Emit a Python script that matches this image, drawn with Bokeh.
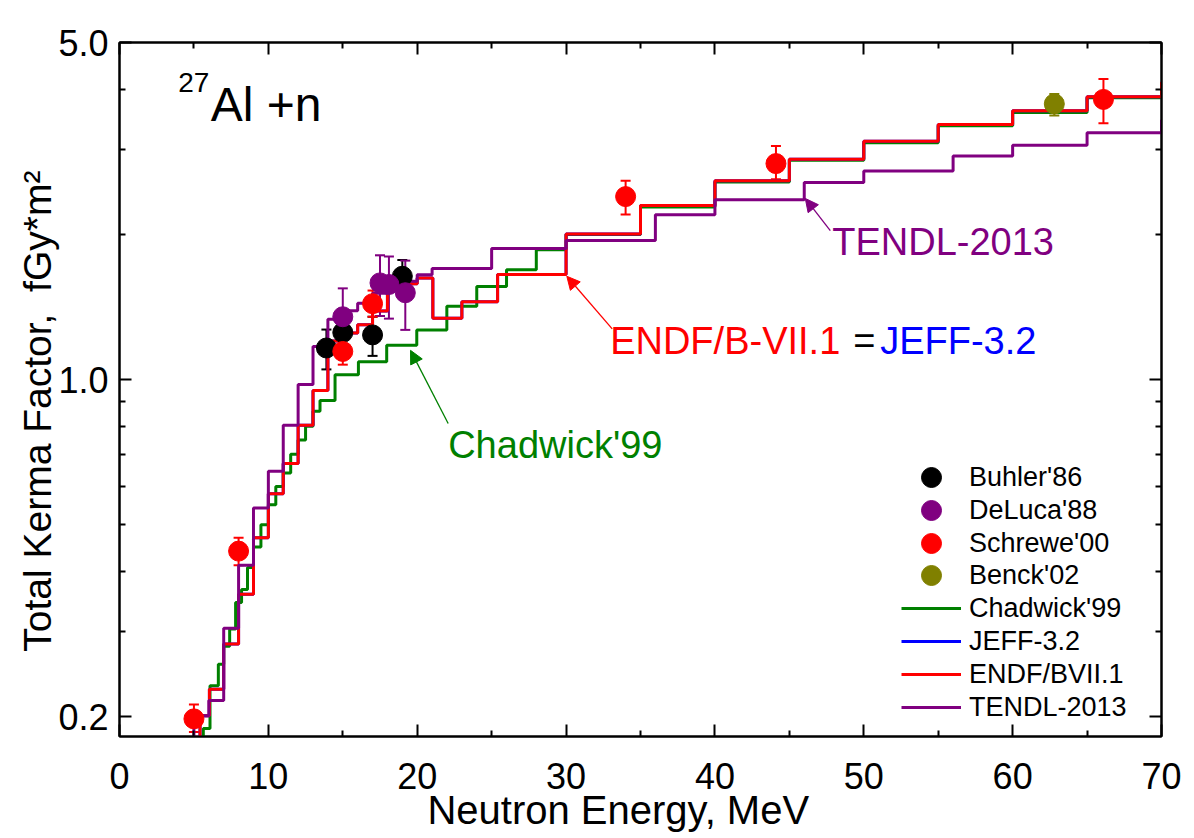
from bokeh.plotting import figure
from bokeh.models import (Range1d, FixedTicker, PrintfTickFormatter, LinearAxis, LogAxis,
                          Label, Arrow, NormalHead, Whisker, TeeHead, ColumnDataSource,
                          Legend, LegendItem, CustomJSTickFormatter)
from bokeh.embed import file_html
from bokeh.resources import INLINE

FONT = "Liberation Sans"

# ---- evaluated data (step edges and bin values) ----
chad_edges = [5.2, 5.63, 6.08, 6.64, 7.0, 7.4, 7.8, 8.2, 8.6, 9.0, 9.5, 10.0, 10.5, 11.0, 11.5,
              12.0, 12.5, 13.0, 13.47, 14.48, 16.05, 17.95, 19.97, 21.99, 24.0, 26.0, 28.0,
              30.0, 35.0, 40.0, 45.0, 50.0, 55.0, 60.0, 65.0, 70.0, 75.0]
chad_vals = [0.17, 0.189, 0.232, 0.257, 0.28, 0.304, 0.345, 0.367, 0.408, 0.45, 0.50, 0.55,
             0.60, 0.64, 0.70, 0.75, 0.80, 0.86, 0.905, 1.024, 1.089, 1.179, 1.268, 1.42,
             1.56, 1.69, 1.86, 2.0, 2.28, 2.57, 2.85, 3.10, 3.36, 3.58, 3.84, 4.1]

endf_edges = [5.0, 5.41, 6.04, 7.0, 8.0, 9.0, 10.0, 11.0, 12.0, 13.0, 14.0, 15.0, 16.0, 17.0,
              18.0, 19.0, 20.0, 21.05, 23.0, 25.4, 30.0, 35.0, 40.0, 45.0, 50.0, 55.0, 60.0,
              65.0, 70.0, 75.0]
endf_vals = [0.17, 0.201, 0.228, 0.283, 0.359, 0.47, 0.58, 0.67, 0.804, 0.949, 1.203, 1.25,
             1.30, 1.388, 1.575, 1.58, 1.625, 1.34, 1.45, 1.652, 2.003, 2.295, 2.585, 2.865,
             3.12, 3.38, 3.61, 3.86, 4.13]

jeff_edges = list(endf_edges)
jeff_vals = list(endf_vals)

tendl_edges = [4.5, 5.0, 5.5, 6.0, 7.0, 8.0, 9.0, 10.0, 11.0, 12.0, 13.0, 14.0, 15.0, 16.0,
               17.0, 18.0, 19.0, 20.0, 21.0, 25.0, 30.0, 36.0, 40.0, 46.0, 50.0, 56.0, 60.0,
               65.0, 70.0, 75.0]
tendl_vals = [0.15, 0.196, 0.201, 0.216, 0.305, 0.412, 0.542, 0.646, 0.804, 0.977, 1.171,
              1.334, 1.39, 1.44, 1.51, 1.56, 1.60, 1.65, 1.70, 1.87, 1.944, 2.197, 2.359,
              2.563, 2.706, 2.91, 3.06, 3.25, 3.45]

# measurements: energy, value, lower, upper
buhler_e = [13.9, 15.0, 17.0, 19.0]
buhler_v = [1.163, 1.252, 1.238, 1.638]
buhler_lo = [1.05, 1.14, 1.12, 1.50]
buhler_hi = [1.27, 1.36, 1.35, 1.77]

deluca_e = [15.0, 17.5, 18.1, 19.2]
deluca_v = [1.35, 1.587, 1.575, 1.514]
deluca_lo = [1.17, 1.355, 1.338, 1.268]
deluca_hi = [1.546, 1.81, 1.80, 1.765]

schrewe_e = [5.0, 8.0, 15.0, 17.0, 34.0, 44.1, 66.1]
schrewe_v = [0.198, 0.441, 1.144, 1.437, 2.396, 2.805, 3.81]
schrewe_lo = [0.186, 0.412, 1.074, 1.35, 2.20, 2.604, 3.40]
schrewe_hi = [0.212, 0.47, 1.22, 1.53, 2.585, 3.05, 4.20]

benck_e = [62.8]
benck_v = [3.73]
benck_lo = [3.53]
benck_hi = [3.91]

x_ticks = [0, 10, 20, 30, 40, 50, 60, 70]
x_minor = [5, 15, 25, 35, 45, 55, 65]
y_ticks = [0.2, 1.0, 5.0]
y_minor = [0.3, 0.4, 0.5, 0.6, 0.7, 0.8, 0.9, 2.0, 3.0, 4.0]

GREEN = "#008000"
RED = "#FF0000"
BLUE = "#0000FF"
PURPLE = "#800080"
OLIVE = "#808000"
BLACK = "#000000"

W, H = 1190, 834
FRAME_L, FRAME_R, FRAME_T, FRAME_B = 119, 1161, 42, 738
p = figure(width=W, height=H, y_axis_type="log", output_backend="svg",
           toolbar_location=None, x_range=Range1d(0, 70), y_range=Range1d(0.182, 5.0),
           min_border_left=FRAME_L, min_border_right=W - FRAME_R, min_border_top=FRAME_T,
           min_border_bottom=H - FRAME_B)
p.grid.visible = False
p.outline_line_color = BLACK
p.outline_line_width = 2
p.background_fill_color = "white"
p.border_fill_color = "white"


def style_axis(ax, show_labels=True):
    ax.axis_line_width = 2
    ax.major_tick_line_width = 2
    ax.minor_tick_line_width = 2
    ax.major_tick_in = 12
    ax.major_tick_out = 0
    ax.minor_tick_in = 6
    ax.minor_tick_out = 0
    ax.major_label_text_font = FONT
    ax.major_label_text_color = BLACK
    ax.axis_label_text_font = FONT
    ax.axis_label_text_color = BLACK
    ax.axis_label_text_font_style = "normal"
    if show_labels:
        ax.major_label_text_font_size = "36px"
    else:
        ax.formatter = CustomJSTickFormatter(code="return '';")
        ax.major_label_text_font_size = "10px"
        ax.major_label_standoff = 0


p.xaxis.ticker = FixedTicker(ticks=x_ticks, minor_ticks=x_minor)
p.yaxis.ticker = FixedTicker(ticks=y_ticks, minor_ticks=y_minor)
p.yaxis.formatter = PrintfTickFormatter(format="%.1f")
style_axis(p.xaxis[0])
style_axis(p.yaxis[0])
p.xaxis.major_label_standoff = 26
p.yaxis.major_label_standoff = 11
p.xaxis.axis_label = "Neutron Energy, MeV" + "\u00a0" * 4
p.xaxis.axis_label_text_font_size = "40px"
p.xaxis.axis_label_standoff = -4
p.yaxis.axis_label = "Total Kerma Factor,\u00a0\u00a0fGy*m\u00b2" + "\u00a0" * 4
p.yaxis.axis_label_text_font_size = "39px"
p.yaxis.axis_label_standoff = -4

top_ax = LinearAxis(ticker=FixedTicker(ticks=x_ticks, minor_ticks=x_minor))
style_axis(top_ax, show_labels=False)
p.add_layout(top_ax, "above")
right_ax = LogAxis(ticker=FixedTicker(ticks=y_ticks, minor_ticks=y_minor))
style_axis(right_ax, show_labels=False)
p.add_layout(right_ax, "right")


def step_y(vals):
    return list(vals) + [vals[-1]]


r_chad = p.step(chad_edges, step_y(chad_vals), mode="after", line_color=GREEN, line_width=3)
r_jeff = p.step(jeff_edges, step_y(jeff_vals), mode="after", line_color=BLUE, line_width=3)
r_endf = p.step(endf_edges, step_y(endf_vals), mode="after", line_color=RED, line_width=3)
r_tendl = p.step(tendl_edges, step_y(tendl_vals), mode="after", line_color=PURPLE, line_width=3)


def points(e, v, lo, hi, color):
    src = ColumnDataSource(dict(x=e, y=v, lo=lo, hi=hi))
    w = Whisker(source=src, base="x", lower="lo", upper="hi", line_color=color, line_width=2,
                upper_head=TeeHead(size=10, line_color=color, line_width=2),
                lower_head=TeeHead(size=10, line_color=color, line_width=2))
    p.add_layout(w)
    return p.scatter("x", "y", source=src, size=20, marker="circle", fill_color=color,
                     line_color=color)


r_buhler = points(buhler_e, buhler_v, buhler_lo, buhler_hi, BLACK)
r_deluca = points(deluca_e, deluca_v, deluca_lo, deluca_hi, PURPLE)
r_schrewe = points(schrewe_e, schrewe_v, schrewe_lo, schrewe_hi, RED)
r_benck = points(benck_e, benck_v, benck_lo, benck_hi, OLIVE)

legend_entries = [("Buhler'86", r_buhler), ("DeLuca'88", r_deluca),
                  ("Schrewe'00", r_schrewe), ("Benck'02", r_benck),
                  ("Chadwick'99", r_chad), ("JEFF-3.2", r_jeff),
                  ("ENDF/BVII.1", r_endf), ("TENDL-2013", r_tendl)]
ROW_BOTTOM_CENTER = 709   # screen y of last legend row centre
ROW_STEP = 32.9
ENTRY_H = 50
n = len(legend_entries)
for i, (lab, rend) in enumerate(legend_entries):
    cy = ROW_BOTTOM_CENTER - ROW_STEP * (n - 1 - i)
    lg = Legend(items=[LegendItem(label=lab, renderers=[rend])],
                location=(782, round((FRAME_B - cy) - ENTRY_H / 2)), padding=0, margin=0,
                spacing=0, glyph_width=60, glyph_height=ENTRY_H, label_height=ENTRY_H,
                label_standoff=8, label_text_font=FONT, label_text_font_size="27px",
                label_text_color=BLACK, border_line_color=None, background_fill_alpha=0)
    p.add_layout(lg, "center")


def txt(x, y, s, color, size):
    p.add_layout(Label(x=x, y=y, text=s, text_color=color, text_font=FONT,
                       text_font_size=size, text_baseline="alphabetic", text_align="left"))


txt(6.13, 3.726, "Al +n", BLACK, "48px")
txt(3.95, 4.13, "27", BLACK, "28px")
txt(47.88, 1.933, "TENDL-2013", PURPLE, "38px")
txt(32.96, 1.204, "ENDF/B-VII.1", RED, "38px")
txt(49.3, 1.204, "=", BLACK, "38px")
txt(51.1, 1.204, "JEFF-3.2", BLUE, "38px")
txt(22.08, 0.731, "Chadwick'99", GREEN, "38px")


def arrow(x0, y0, x1, y1, color):
    p.add_layout(Arrow(x_start=x0, y_start=y0, x_end=x1, y_end=y1, line_color=color,
                       line_width=1.3,
                       end=NormalHead(size=13, fill_color=color, line_color=color)))


arrow(22.08, 0.811, 19.55, 1.15, GREEN)
arrow(33.1, 1.274, 30.05, 1.638, RED)
arrow(47.75, 2.036, 46.07, 2.375, PURPLE)

open("out.html", "w").write(file_html(p, INLINE))
